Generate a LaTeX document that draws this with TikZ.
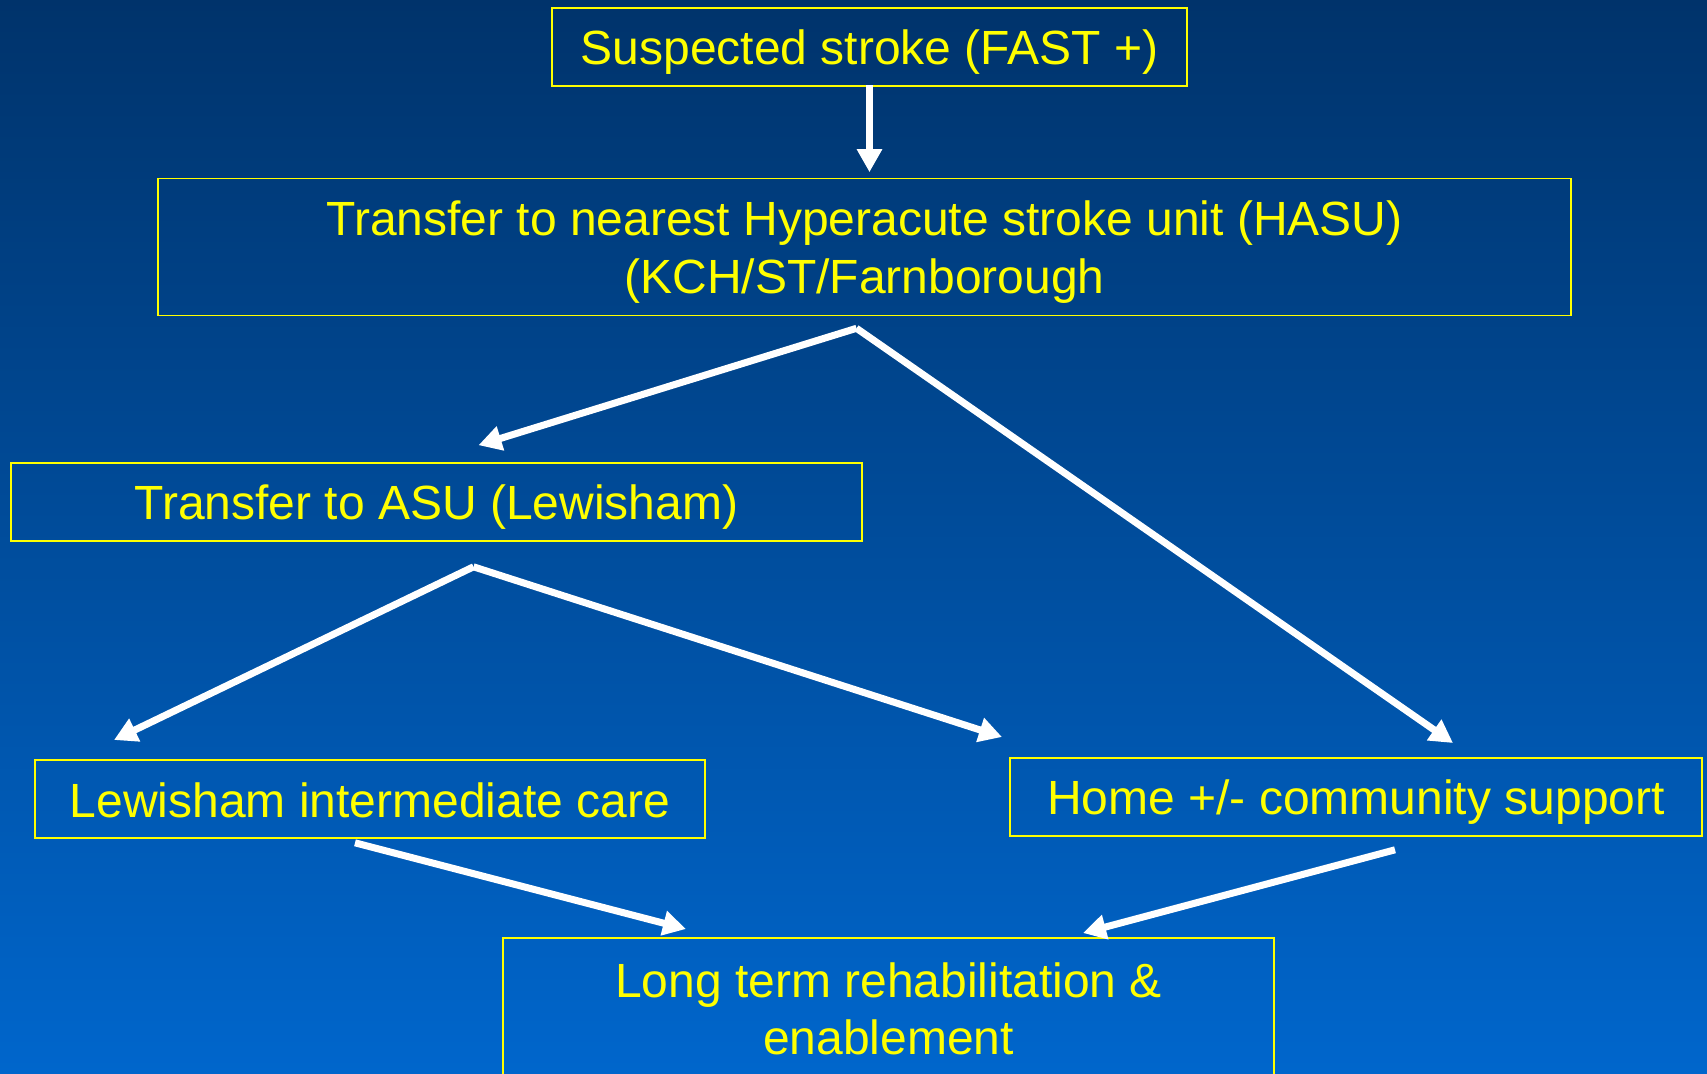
\documentclass[tikz,border=0pt]{standalone}
\usepackage{fontspec}
\setmainfont{Liberation Sans}
\usetikzlibrary{arrows.meta,calc}
\definecolor{bgtop}{RGB}{0,51,107}
\definecolor{bgbot}{RGB}{0,102,204}
\definecolor{txtyel}{RGB}{255,255,0}
\begin{document}
\begin{tikzpicture}[x=1pt,y=-1pt,
  box/.style={draw=txtyel,line width=1.6pt,inner sep=0pt,anchor=center},
  txt/.style={text=txtyel,font=\fontsize{48}{57.5}\selectfont,align=center,inner sep=0pt,anchor=center},
  arr/.style={draw=white,line width=7pt,-{Triangle[length=23pt,width=24pt]}}]
\path[use as bounding box] (0,0) rectangle (1707,1073);
\clip (0,0) rectangle (1707,1073);
\shade[top color=bgtop,bottom color=bgbot] (0,0) rectangle (1707,1073);
% boxes
\node[box,minimum width=635pt,minimum height=78.5pt] (s) at (869.5,47) {};
\node[box,minimum width=1413pt,minimum height=137pt] (hasu) at (864.5,247) {};
\node[box,minimum width=851pt,minimum height=78pt] (asu) at (436.5,502) {};
\node[box,minimum width=670pt,minimum height=78pt] (lic) at (370,799) {};
\node[box,minimum width=692pt,minimum height=78pt] (home) at (1356,797) {};
\node[box,minimum width=771pt,minimum height=142pt] (lt) at (888.5,1009) {};
% texts
\node[txt] (s-t) at ($(s.center)+(0,5.5)$) {Suspected stroke (FAST +)};
\node[txt] (hasu-t) at ($(hasu.center)+(0,5)$) {Transfer to nearest Hyperacute stroke unit (HASU)\\(KCH/ST/Farnborough};
\node[txt] (asu-t) at ($(asu.center)+(0,5.5)$) {Transfer to ASU (Lewisham)};
\node[txt] (lic-t) at ($(lic.center)+(0,1.5)$) {Lewisham intermediate care};
\node[txt] (home-t) at ($(home.center)+(0,5.5)$) {Home +/- community support};
\node[txt] (lt-t) at ($(lt.center)+(0,0)$) {Long term rehabilitation \&\\enablement};
% connector end points
\coordinate (h0) at ($(hasu.south)+(-8,12)$);
\coordinate (h1) at ($(asu.north)+(42,-17)$);
\coordinate (h2) at (1453,743);
\coordinate (a0) at ($(asu.south)+(37,25)$);
\coordinate (a1) at (114,740);
\coordinate (a2) at (1002,737);
\coordinate (l0) at ($(lic.south)+(-15,4)$);
\coordinate (l1) at (686,929);
\coordinate (m0) at ($(home.south)+(39,13)$);
\coordinate (m1) at (1083,933);
\draw[arr] ($(s.south)+(0,-2)$) -- ($(s.south |- hasu.north)+(0,-5.5)$);
\draw[arr] (h0) -- (h1);
\draw[arr] (h0) -- (h2);
\draw[arr] (a0) -- (a1);
\draw[arr] (a0) -- (a2);
\draw[arr] (l0) -- (l1);
\draw[arr] (m0) -- (m1);
\end{tikzpicture}
\end{document}
